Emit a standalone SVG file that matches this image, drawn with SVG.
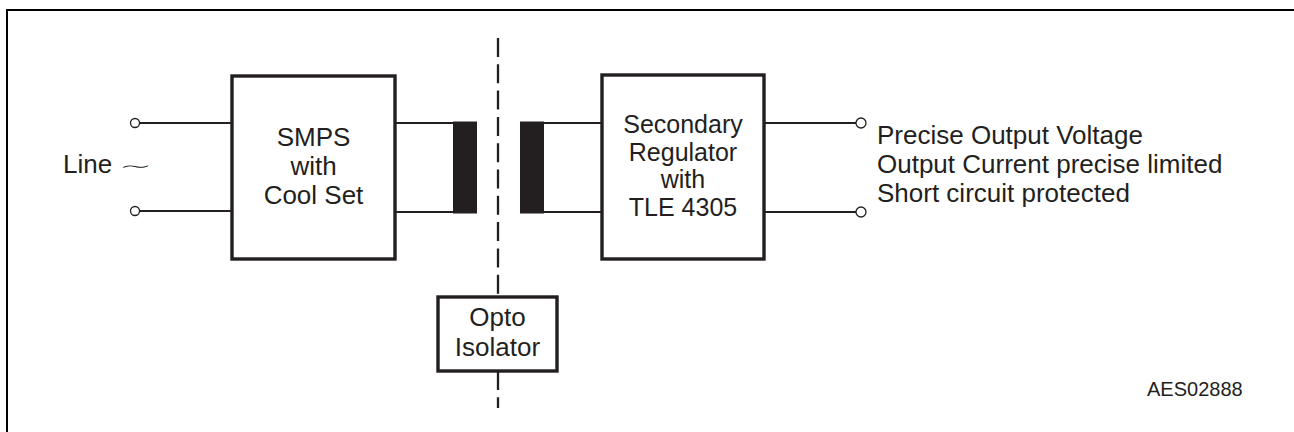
<svg xmlns="http://www.w3.org/2000/svg" width="1294" height="432" viewBox="0 0 1294 432">
  <style>
    .box { fill: #ffffff; stroke: #231f20; stroke-width: 3.4; }
    .wire { stroke: #231f20; stroke-width: 2; fill: none; }
    .term { fill: #ffffff; stroke: #231f20; stroke-width: 1.3; }
    .core { fill: #231f20; stroke: none; }
    .dash { stroke: #231f20; stroke-width: 2.3; stroke-dasharray: 19 7.3; fill: none; }
    .lbl { font-family: "Liberation Sans", Arial, sans-serif; font-size: 26px; fill: #231f20; }
    .mid { text-anchor: middle; }
    .sec { font-size: 25px; }
    .small { font-size: 20px; }
    .tilde { font-family: "DejaVu Sans", sans-serif; font-size: 36px; font-weight: 200; fill: #231f20; }
  </style>
  <rect x="0" y="0" width="1294" height="432" fill="#ffffff"/>
  <g id="frame">
    <rect x="7" y="10" width="1300" height="440" fill="none" stroke="#000000" stroke-width="2"/>
  </g>
  <g id="connectors">
    <line class="wire" x1="139.5" y1="123" x2="232" y2="123"/>
    <line class="wire" x1="139.5" y1="211" x2="232" y2="211"/>
    <line class="wire" x1="395" y1="123" x2="453" y2="123"/>
    <line class="wire" x1="395" y1="212" x2="453" y2="212"/>
    <line class="wire" x1="544" y1="123" x2="602" y2="123"/>
    <line class="wire" x1="544" y1="212" x2="602" y2="212"/>
    <line class="wire" x1="764" y1="123" x2="856" y2="123"/>
    <line class="wire" x1="764" y1="212" x2="856" y2="212"/>
    <line class="dash" x1="498" y1="38" x2="498" y2="297"/>
    <line class="dash" x1="498" y1="371" x2="498" y2="408"/>
  </g>
  <g id="input-terminals">
    <circle class="term" cx="135" cy="123" r="4.5"/>
    <circle class="term" cx="135" cy="211" r="4.5"/>
    <text class="lbl" x="63" y="173">Line</text>
    <text class="tilde" transform="translate(119,174) scale(1.45,0.6)" x="0" y="0">∼</text>
  </g>
  <g id="smps">
    <rect class="box" x="232" y="76" width="163" height="183"/>
    <text class="lbl mid" x="313.5" y="146">SMPS</text>
    <text class="lbl mid" x="313.5" y="175">with</text>
    <text class="lbl mid" x="313.5" y="204">Cool Set</text>
  </g>
  <g id="transformer">
    <rect class="core" x="453" y="121.5" width="24" height="92"/>
    <rect class="core" x="520" y="121.5" width="24" height="92"/>
  </g>
  <g id="secondary-regulator">
    <rect class="box" x="602" y="75" width="162" height="184"/>
    <text class="lbl mid sec" x="683" y="133">Secondary</text>
    <text class="lbl mid sec" x="683" y="160.5">Regulator</text>
    <text class="lbl mid sec" x="683" y="188">with</text>
    <text class="lbl mid sec" x="683" y="215.5">TLE 4305</text>
  </g>
  <g id="opto-isolator">
    <rect class="box" x="438" y="297" width="119" height="74"/>
    <text class="lbl mid" x="497.5" y="326">Opto</text>
    <text class="lbl mid" x="497.5" y="356">Isolator</text>
  </g>
  <g id="output-terminals">
    <circle class="term" cx="861" cy="123" r="5"/>
    <circle class="term" cx="861" cy="212" r="5"/>
    <text class="lbl" x="877" y="144">Precise Output Voltage</text>
    <text class="lbl" x="877" y="173">Output Current precise limited</text>
    <text class="lbl" x="877" y="202">Short circuit protected</text>
  </g>
  <g id="figure-id">
    <text class="lbl small" x="1147" y="396">AES02888</text>
  </g>
</svg>
